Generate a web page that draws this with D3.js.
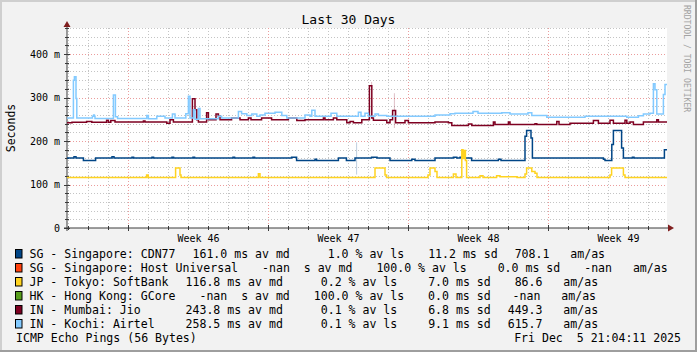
<!DOCTYPE html>
<html>
<head>
<meta charset="utf-8">
<script src="https://cdn.jsdelivr.net/npm/d3@7"></script>
<style>
  html, body { margin: 0; padding: 0; background: #f2f2f2; }
  svg { display: block; font-family: "DejaVu Sans Mono", monospace; }
  text { white-space: pre; }
</style>
</head>
<body>
<script>
// ---- data (days since graph start, ms) ----
const hostNames = ["SG - Singapore: CDN77", "SG - Singapore: Host Universal", "JP - Tokyo: SoftBank",
    "HK - Hong Kong: GCore", "IN - Mumbai: Jio", "IN - Kochi: Airtel"];
const hostColors = ["#004586", "#ff420e", "#ffd320", "#579d1c", "#7e0021", "#83caff"];
const medianText = ["161.0 ms av md ", " -nan  s av md ", "116.8 ms av md ", " -nan  s av md ", "243.8 ms av md ", "258.5 ms av md "];
const lossText = ["  1.0 % av ls", "100.0 % av ls", "  0.2 % av ls", "100.0 % av ls", "  0.1 % av ls", "  0.1 % av ls"];
const sdevText = [" 11.2 ms sd", "  0.0 ms sd", "  7.0 ms sd", "  0.0 ms sd", "  6.8 ms sd", "  9.1 ms sd"];
const amasText = ["708.1", " -nan", " 86.6", " -nan", "449.3", "615.7"];

const weekLabels = ["Week 46", "Week 47", "Week 48", "Week 49"];
const yTicks = [0, 100, 200, 300, 400];
const yTickLabels = ["0", "100 m", "200 m", "300 m", "400 m"];

const cdn77 = [[0, 161], [0.35, 164], [0.45, 161], [0.82, 155], [1.43, 161], [2.25, 164], [2.35, 161],
    [3.25, 163], [3.33, 161], [4.25, 163], [4.33, 161], [5.25, 163], [5.33, 161], [6.3, 163], [6.38, 161],
    [8.3, 163], [8.38, 161], [9.3, 163], [9.38, 161], [11.23, 163], [11.48, 155], [12.4, 158], [12.48, 155.5],
    [13.57, 161], [13.97, 155.5], [14.4, 161], [15.23, 163], [15.5, 161], [16.15, 155.5], [17.24, 158],
    [17.4, 155.5], [18.4, 161], [19.32, 163], [19.49, 161], [19.65, 163], [19.82, 161], [20.23, 155.5],
    [21.57, 158], [21.7, 155.5], [22.9, 211], [22.98, 224.5], [23.2, 207], [23.27, 161], [26.82, 158],
    [26.9, 155], [27.24, 192], [27.32, 224.5], [27.73, 184], [27.82, 161], [28.27, 163], [28.35, 161],
    [29.87, 180], [30, 180]];

const softbank = [[0, 116], [3.98, 122], [4.06, 116], [5.43, 138], [5.65, 122], [5.7, 116], [9.57, 125],
    [9.65, 116], [15.4, 138], [15.9, 122], [15.98, 116], [18.05, 122], [18.15, 138], [18.4, 130], [18.5, 116],
    [19.32, 124], [19.45, 116], [19.74, 180], [19.8, 160], [19.86, 178], [19.92, 155], [19.98, 116],
    [20.65, 120], [20.8, 116], [21.48, 120], [21.65, 118], [22.5, 116], [22.9, 124], [22.98, 138],
    [23.24, 130], [23.4, 126], [23.5, 116], [27.15, 122], [27.23, 138], [27.82, 122], [27.9, 116], [30, 116]];

const jio = [[0, 242], [0.25, 243], [0.98, 245], [1.24, 243], [1.98, 248], [2.07, 243], [2.19, 247],
    [2.4, 244], [3.82, 246], [3.9, 244], [4.99, 241], [5.15, 249], [5.32, 244], [6.27, 297], [6.4, 272],
    [6.49, 249], [6.57, 244], [6.98, 265], [7.07, 249], [7.45, 262], [7.57, 257], [7.65, 249], [8.23, 253],
    [8.65, 249], [9.07, 253], [9.2, 249], [9.73, 253], [10.23, 249], [11.07, 253], [11.49, 247], [11.9, 249],
    [12.82, 253], [12.9, 249], [13.32, 253], [13.49, 249], [13.99, 242], [14.15, 245], [14.32, 242],
    [14.74, 249], [15.12, 327], [15.24, 253], [15.32, 248], [15.99, 242], [16.15, 249], [16.28, 270],
    [16.43, 242], [16.9, 247], [17.07, 242], [18.4, 244], [19.07, 242], [19.24, 236], [20.07, 239],
    [20.24, 236], [21.32, 244], [21.4, 238], [22.07, 244], [22.15, 238], [23.4, 240], [23.49, 238],
    [24.49, 245], [24.6, 238], [25.15, 241], [26.32, 247], [26.57, 241], [27.15, 248], [27.32, 241],
    [27.9, 248], [27.99, 241], [28.15, 244], [28.32, 238], [28.82, 244], [29.49, 249], [29.57, 244], [30, 244]];

const airtel = [[0, 253], [0.32, 340], [0.37, 348], [0.45, 298], [0.49, 253], [1.27, 257], [1.33, 260],
    [1.37, 257], [1.4, 252], [2.32, 306], [2.42, 256], [2.53, 252], [3.99, 259], [4.07, 251], [4.49, 257],
    [4.9, 253], [5.27, 262], [5.4, 253], [5.94, 263], [6.07, 303], [6.15, 253], [6.32, 272], [6.4, 250],
    [6.57, 275], [6.65, 251], [7.57, 257], [7.73, 253], [8.57, 268], [8.73, 263], [8.99, 259], [9.24, 262],
    [9.49, 257], [9.65, 260], [9.9, 264], [10.4, 266], [10.74, 259], [10.99, 253], [11.9, 260], [12.15, 257],
    [12.24, 271], [12.4, 257], [13.2, 264], [13.49, 257], [14.57, 266], [14.7, 257], [14.9, 264], [15.07, 257],
    [15.4, 262], [15.57, 259], [15.99, 257], [18.4, 260], [19.15, 263], [19.4, 264], [20.3, 268], [20.55, 264],
    [21.74, 265], [22.15, 262], [23.05, 265], [23.24, 259], [23.99, 255], [25.9, 257], [27.99, 255],
    [28.57, 258], [28.82, 262], [29.15, 264], [29.32, 332], [29.4, 318], [29.49, 262], [29.82, 307],
    [29.9, 330], [30, 330]];

// thin, barely visible spikes: [host index, day, low, high]
const faintSpikes = [[0, 14.48, 123, 197], [4, 15.23, 327, 336], [4, 16.37, 230, 310]];

const seriesData = [cdn77, null, softbank, null, jio, airtel];

// ---- layout ----
const W = 697, H = 352;
const plotL = 67, plotR = 667, plotT = 28, plotB = 228;
const startMs = Date.UTC(2025, 10, 6, 22, 48);
const dayMs = 864e5;
const endMs = startMs + 30 * dayMs;
const legendTop = 258, legendStep = 14;
const charW = 6.953, glue = 17;   // legend pieces laid out like rrdtool: text width + fixed gap
// per-row nudges (px) for the sd piece, the am/as value and the am/as unit
const nudge = [[0, 0, 0], [0, 0, 0], [0, 0, 0], [-7, -9, -9], [0, 0, 0], [0, 0, 0]];

const svg = d3.select("body").append("svg").attr("width", W).attr("height", H);

// background + 3d frame
svg.append("rect").attr("width", W).attr("height", H).attr("fill", "#f2f2f2");
svg.append("path").attr("d", `M0,${H} V0 H${W}`).attr("fill", "none").attr("stroke", "#cfcfcf").attr("stroke-width", 4);
svg.append("path").attr("d", `M0,${H} H${W} V0`).attr("fill", "none").attr("stroke", "#9e9e9e").attr("stroke-width", 4);

const x = d3.scaleUtc().domain([new Date(startMs), new Date(endMs)]).range([plotL, plotR]);
const y = d3.scaleLinear().domain([0, 460]).range([plotB, plotT]);
const toDate = d => new Date(startMs + d * dayMs);

svg.append("rect").attr("x", plotL).attr("y", plotT).attr("width", plotR - plotL).attr("height", plotB - plotT)
    .attr("fill", "#ffffff");

// grid
const days = d3.utcDay.range(new Date(startMs), new Date(endMs));
const mondays = d3.utcMonday.range(new Date(startMs), new Date(endMs));
const isMonday = d => d.getUTCDay() === 1;
const grid = svg.append("g").attr("stroke-width", 1).attr("stroke-dasharray", "1,2");

d3.range(20, 461, 20).forEach(v => {
    const yy = Math.round(y(v)) + 0.5;
    grid.append("line").attr("x1", plotL).attr("x2", plotR).attr("y1", yy).attr("y2", yy)
        .attr("stroke", v % 100 === 0 ? "#eb9c9c" : "#c4c4c4");
});
days.forEach(d => {
    const xx = Math.round(x(d)) + 0.5;
    grid.append("line").attr("x1", xx).attr("x2", xx).attr("y1", plotT).attr("y2", plotB)
        .attr("stroke", isMonday(d) ? "#eb9c9c" : "#c4c4c4");
});

// axes lines, ticks and arrows
const ax = svg.append("g").attr("stroke", "#3a3a3a").attr("stroke-width", 1);
ax.append("line").attr("x1", plotL - 3).attr("x2", plotR + 3).attr("y1", plotB).attr("y2", plotB);
ax.append("line").attr("x1", plotL).attr("x2", plotL).attr("y1", plotB + 3).attr("y2", plotT - 3);
days.forEach(d => {
    const xx = Math.round(x(d)) + 0.5, len = isMonday(d) ? 3 : 2;
    ax.append("line").attr("x1", xx).attr("x2", xx).attr("y1", plotB - len).attr("y2", plotB + len);
});
d3.range(0, 461, 20).forEach(v => {
    const yy = Math.round(y(v)) + 0.5, len = v % 100 === 0 ? 3 : 2;
    ax.append("line").attr("x1", plotL - len).attr("x2", plotL + len).attr("y1", yy).attr("y2", yy);
});
svg.append("path").attr("d", `M${plotR + 7},${plotB} L${plotR + 1},${plotB - 3.5} L${plotR + 1},${plotB + 3.5} Z`)
    .attr("fill", "#801f1f");
svg.append("path").attr("d", `M${plotL},${plotT - 7} L${plotL - 3.5},${plotT - 1} L${plotL + 3.5},${plotT - 1} Z`)
    .attr("fill", "#801f1f");

// tick labels via d3 axes
const yAxis = d3.axisLeft(y).tickValues(yTicks).tickFormat((d, i) => yTickLabels[i]).tickSize(0).tickPadding(7);
svg.append("g").attr("transform", `translate(${plotL},0)`).call(yAxis)
    .call(g => g.select(".domain").remove())
    .selectAll("text").style("font-family", "DejaVu Sans Mono").style("font-size", "10px").attr("fill", "#000");

const weekCenters = mondays.map(m => new Date(+m + 3.5 * dayMs));
const xAxis = d3.axisBottom(x).tickValues(weekCenters).tickFormat((d, i) => weekLabels[i]).tickSize(0).tickPadding(6.4);
svg.append("g").attr("transform", `translate(0,${plotB})`).call(xAxis)
    .call(g => g.select(".domain").remove())
    .selectAll("text").style("font-family", "DejaVu Sans Mono").style("font-size", "10px").attr("fill", "#000");

// series lines
const line = d3.line().x(d => x(toDate(d[0]))).y(d => y(d[1])).curve(d3.curveStepAfter);
const plot = svg.append("g");
faintSpikes.forEach(s => {
    const xx = x(toDate(s[1]));
    plot.append("line").attr("x1", xx).attr("x2", xx).attr("y1", y(s[2])).attr("y2", y(s[3]))
        .attr("stroke", hostColors[s[0]]).attr("stroke-opacity", 0.25).attr("stroke-width", 1);
});
seriesData.forEach((data, i) => {
    if (!data) return;
    plot.append("path").datum(data).attr("d", line).attr("fill", "none")
        .attr("stroke", hostColors[i]).attr("stroke-width", 1.5);
});

// title, unit, watermark
svg.append("text").attr("x", W / 2).attr("y", 24).attr("text-anchor", "middle")
    .style("font-size", "13px").text("Last 30 Days");
svg.append("text").attr("transform", `translate(15,${(plotT + plotB) / 2}) rotate(-90)`)
    .attr("text-anchor", "middle").style("font-size", "11.5px").text("Seconds");
svg.append("text").attr("transform", "translate(684,5) rotate(90)")
    .style("font-size", "8.1px").attr("fill", "#a3a3a3").text("RRDTOOL / TOBI OETIKER");

// legend
const legend = svg.append("g").style("font-size", "11.55px");
hostNames.forEach((name, i) => {
    const by = legendTop + i * legendStep;
    legend.append("rect").attr("x", 15.5).attr("y", by - 8.5).attr("width", 6.5).attr("height", 8.5)
        .attr("fill", hostColors[i]).attr("stroke", "#000").attr("stroke-width", 1);
    const put = (px, t) => legend.append("text").attr("x", px).attr("y", by).text(t);
    let px = 29.5;
    put(px, name);
    px += Math.max(20, name.length) * charW + glue;
    put(px, medianText[i]);
    px += medianText[i].length * charW + glue;
    put(px, lossText[i]);
    px += lossText[i].length * charW + glue;
    put(px + nudge[i][0], sdevText[i]);
    px += sdevText[i].length * charW + glue;
    put(px + nudge[i][1], amasText[i]);
    put(px + 8 * charW + nudge[i][2], "am/as");
});
const lastY = legendTop + 6 * legendStep;
legend.append("text").attr("x", 16).attr("y", lastY).text("ICMP Echo Pings (56 Bytes)");
legend.append("text").attr("x", 681).attr("y", lastY).attr("text-anchor", "end").text("Fri Dec  5 21:04:11 2025");
</script>
</body>
</html>
